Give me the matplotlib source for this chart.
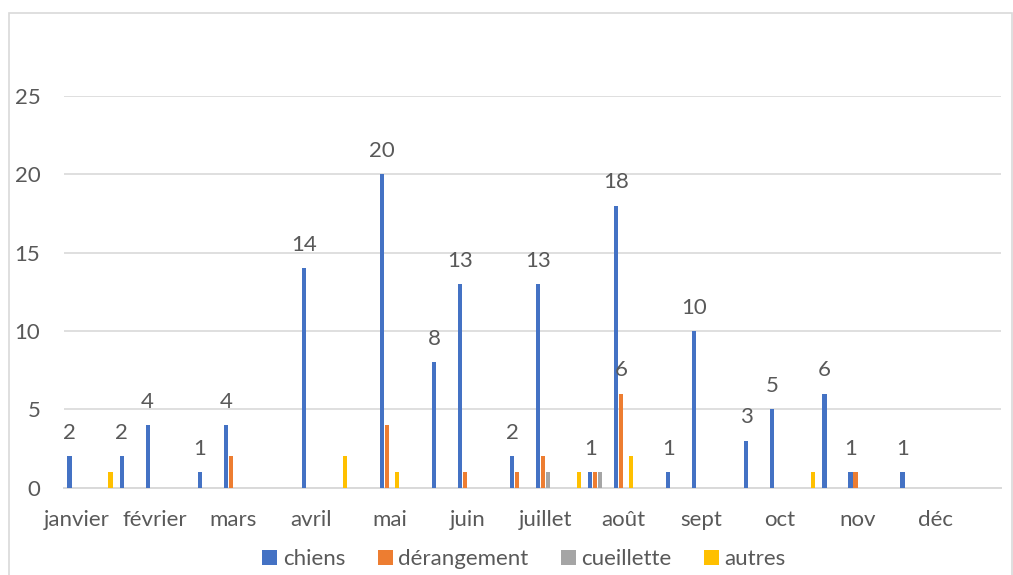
import numpy as np
import matplotlib
matplotlib.use("Agg")
import matplotlib.pyplot as plt
from matplotlib.patches import Rectangle

plt.rcParams["font.family"] = ["Lato", "DejaVu Sans"]

# 36 categories, only every third one carries a month name
categories = [
    "janvier", "", "", "février", "", "", "mars", "", "", "avril", "", "",
    "mai", "", "", "juin", "", "", "juillet", "", "", "août", "", "",
    "sept", "", "", "oct", "", "", "nov", "", "", "déc", "", "",
]

chiens = [2, 0, 2, 4, 0, 1, 4, 0, 0, 14, 0, 0,
          20, 0, 8, 13, 0, 2, 13, 0, 1, 18, 0, 1,
          10, 0, 3, 5, 0, 6, 1, 0, 1, 0, 0, 0]
derangement = [0, 0, 0, 0, 0, 0, 2, 0, 0, 0, 0, 0,
               4, 0, 0, 1, 0, 1, 2, 0, 1, 6, 0, 0,
               0, 0, 0, 0, 0, 0, 1, 0, 0, 0, 0, 0]
cueillette = [0, 0, 0, 0, 0, 0, 0, 0, 0, 0, 0, 0,
              0, 0, 0, 0, 0, 0, 1, 0, 1, 0, 0, 0,
              0, 0, 0, 0, 0, 0, 0, 0, 0, 0, 0, 0]
autres = [0, 1, 0, 0, 0, 0, 0, 0, 0, 0, 2, 0,
          1, 0, 0, 0, 0, 0, 0, 1, 0, 2, 0, 0,
          0, 0, 0, 0, 1, 0, 0, 0, 0, 0, 0, 0]

series_names = ["chiens", "dérangement", "cueillette", "autres"]
colors = ["#4472C4", "#ED7D31", "#A5A5A5", "#FFC000"]

# only this single dérangement value has a label in the original
labelled_derangement = [21]

TEXT = "#595959"
GRID = "#D9D9D9"
FS = 16

fig = plt.figure(figsize=(10.13, 5.75), dpi=100)

# outer chart border
fig.patches.append(
    Rectangle(
        (9 / 1013, -0.05),
        1003 / 1013,
        1.05 - 13 / 575,
        transform=fig.transFigure,
        fill=False,
        edgecolor=GRID,
        linewidth=1.2,
    )
)

ax = fig.add_axes([64 / 1013, 87.3 / 575, 937 / 1013, 391.7 / 575])

x = np.arange(len(categories))
pitch = 0.19
width = 0.165

all_series = [chiens, derangement, cueillette, autres]
bars = []
for i, (vals, name, col) in enumerate(zip(all_series, series_names, colors)):
    b = ax.bar(
        x + (i - 1.5) * pitch,
        vals,
        width=width,
        color=col,
        label=name,
        zorder=3,
    )
    bars.append(b)

# data labels
for rect, v in zip(bars[0], chiens):
    if v > 0:
        ax.annotate(
            str(v),
            (rect.get_x() + rect.get_width() / 2, v),
            xytext=(0, 12.5),
            textcoords="offset points",
            ha="center",
            va="baseline",
            fontsize=FS,
            color=TEXT,
        )
for idx in labelled_derangement:
    rect = bars[1][idx]
    ax.annotate(
        str(derangement[idx]),
        (rect.get_x() + rect.get_width() / 2, derangement[idx]),
        xytext=(0, 12.5),
        textcoords="offset points",
        ha="center",
        va="baseline",
        fontsize=FS,
        color=TEXT,
    )

ax.set_xlim(-0.5, len(categories) - 0.5)
ax.set_ylim(0, 25)
ax.set_yticks([0, 5, 10, 15, 20, 25])

month_pos = [i for i, c in enumerate(categories) if c]
ax.set_xticks(month_pos)
ax.set_xticklabels([categories[i] for i in month_pos])

ax.tick_params(axis="both", length=0, labelsize=FS, labelcolor=TEXT)
ax.tick_params(axis="x", pad=16)
ax.tick_params(axis="y", pad=17)

ax.grid(axis="y", color=GRID, linewidth=1.2, zorder=0)
for s in ["top", "right", "left"]:
    ax.spines[s].set_visible(False)
ax.spines["bottom"].set_color(GRID)
ax.spines["bottom"].set_linewidth(1.4)

fig.legend(
    handles=bars,
    labels=series_names,
    loc="center",
    bbox_to_anchor=(524 / 1013, 1 - 559 / 575),
    ncol=4,
    frameon=False,
    fontsize=FS,
    labelcolor=TEXT,
    handlelength=0.68,
    handleheight=0.68,
    handletextpad=0.25,
    columnspacing=1.45,
)

fig.savefig("out.png", dpi=100)
